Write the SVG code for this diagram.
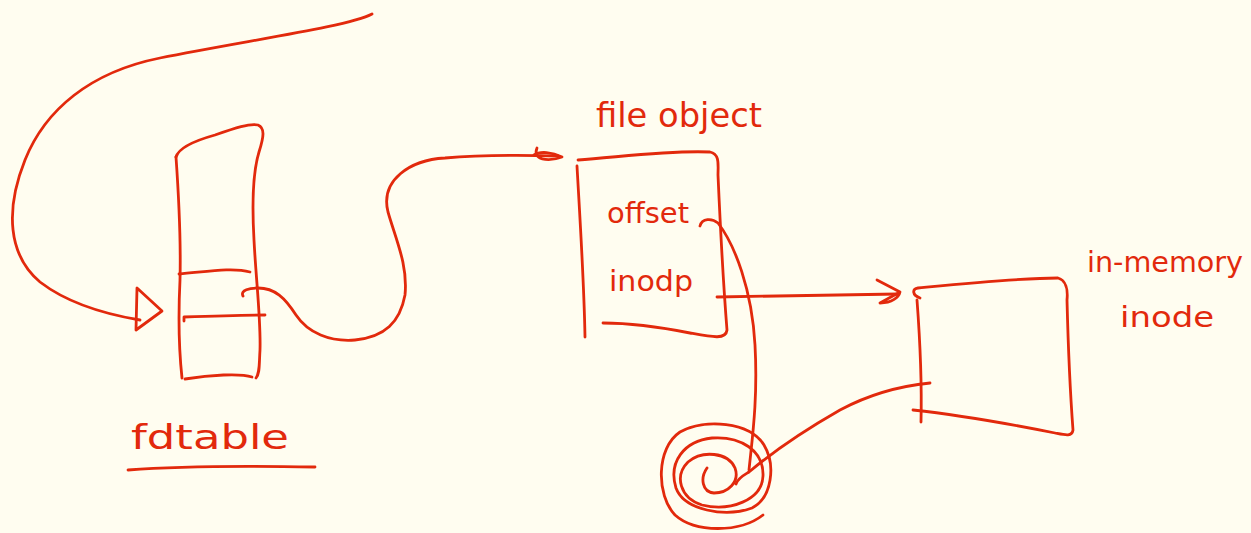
<svg xmlns="http://www.w3.org/2000/svg" width="1251" height="533" viewBox="0 0 1251 533">
<style>
.s{fill:none;stroke:#e2290c;stroke-width:2.8;stroke-linecap:round;stroke-linejoin:round}
.t{fill:#e2290c;font-family:"DejaVu Sans","Liberation Sans",sans-serif}
</style>
<rect width="1251" height="533" fill="#fffdf0"/>
<g id="connectors">
<path class="s" d="M372,14 C350,26 250,40 160,58 C90,72 45,110 25,160 C5,210 8,255 40,282 C70,305 110,315 140,320"/>
<path class="s" d="M137,288 L136,330 L162,311 Z"/>
<path class="s" d="M243,296 C240,290 250,288 258,288 C275,288 285,298 296,315 C308,333 330,342 355,340 C385,337 400,322 405,295 C408,265 396,240 388,212 C380,180 410,160 445,158 C480,155 520,155 558,156"/>
<path class="s" d="M537,148 C532,160 548,162 562,157 C552,152 540,151 534,155"/>
<path class="s" d="M700,226 C702,218 712,218 718,223 C735,245 752,290 755,345 C758,400 752,440 749,470"/>
<path class="s" d="M717,297 L898,294"/>
<path class="s" d="M877,280 L900,292 L880,303 C892,303 899,297 900,292"/>
<path class="s" d="M736,484 C738,478 744,475 749,472 C775,450 805,430 840,410 C870,394 900,386 930,383"/>
<path class="s" d="M707,468 C700,478 702,492 714,493 C728,493 740,482 735,468 C728,452 702,450 688,462 C674,476 680,498 702,505 C730,512 762,500 763,476 C764,450 740,436 712,438 C684,441 668,462 676,488 C684,510 725,518 752,508 C772,498 776,465 764,445 C750,422 705,418 680,432 C656,448 656,495 675,515 C695,533 740,533 763,515"/>
</g>
<g id="fdtable">
<path class="s" d="M176,157 C178,150 190,142 215,135 C235,128 250,123 258,125 C265,128 264,136 259,152 C252,175 252,205 254,240 C256,280 261,320 260,350 C259,365 260,373 256,378"/>
<path class="s" d="M176,157 C179,200 181,240 180,280 C178,320 179,350 182,378"/>
<path class="s" d="M185,379 C210,375 240,373 252,377"/>
<path class="s" d="M179,274 C205,272 232,267 250,272"/>
<path class="s" d="M184,321 L184,317 C210,316 240,315 265,315"/>
<text class="t" x="131" y="449" font-size="34" textLength="158" lengthAdjust="spacingAndGlyphs">fdtable</text>
<path class="s" d="M128,470 C180,466 260,466 315,467"/>
</g>
<g id="fileobject">
<text class="t" x="596" y="127" font-size="34" textLength="166" lengthAdjust="spacingAndGlyphs">file object</text>
<path class="s" d="M578,160 C620,157 670,150 710,152 C720,154 718,165 718,175 C720,220 723,280 727,330 C726,340 712,337 690,333 C660,327 630,323 603,323"/>
<path class="s" d="M577,166 C580,220 584,280 585,337"/>
<text class="t" x="607" y="223" font-size="28" textLength="82" lengthAdjust="spacingAndGlyphs">offset</text>
<text class="t" x="609" y="291" font-size="28" textLength="84" lengthAdjust="spacingAndGlyphs">inodp</text>
</g>
<g id="inode">
<path class="s" d="M920,298 C912,295 912,289 918,288 C960,284 1020,278 1058,278 C1066,280 1068,290 1067,300 C1068,340 1070,390 1073,430 C1072,437 1065,435 1055,433 C1010,424 950,414 913,410"/>
<path class="s" d="M917,300 C920,340 922,380 921,422"/>
<text class="t" x="1087" y="272" font-size="28" textLength="156" lengthAdjust="spacingAndGlyphs">in-memory</text>
<text class="t" x="1120" y="327" font-size="28" textLength="94" lengthAdjust="spacingAndGlyphs">inode</text>
</g>
</svg>
